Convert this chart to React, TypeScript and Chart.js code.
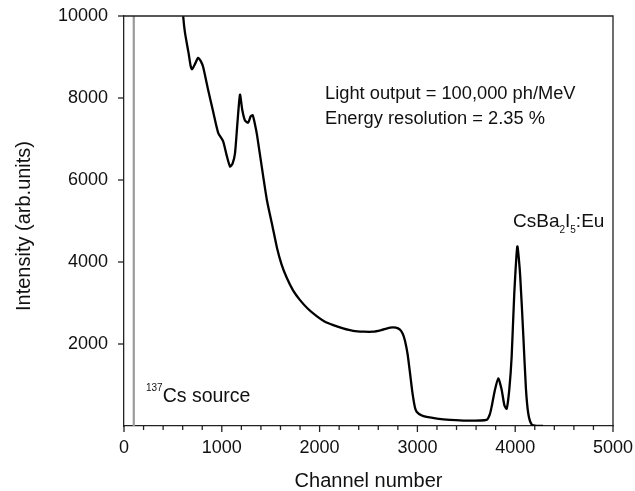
import React, { useEffect, useRef } from "react";
import { Chart, registerables } from "chart.js";

Chart.register(...registerables);

const channels = [590, 605, 623, 660, 680, 695, 730, 757, 785, 810, 860, 913, 963, 1013, 1050, 1084, 1110, 1135, 1160, 1186, 1210, 1237, 1270, 1295, 1316, 1340, 1360, 1410, 1462, 1520, 1564, 1610, 1663, 1730, 1800, 1880, 1970, 2050, 2140, 2240, 2343, 2450, 2547, 2630, 2720, 2780, 2822, 2850, 2873, 2900, 2924, 2950, 2975, 2992, 3040, 3094, 3200, 3333, 3500, 3708, 3740, 3759, 3790, 3827, 3860, 3890, 3913, 3940, 3964, 3990, 4022, 4050, 4083, 4110, 4134, 4168, 4220, 4285];
const intensity = [10600, 10000, 9600, 9100, 8800, 8700, 8850, 8980, 8900, 8750, 8200, 7650, 7150, 6950, 6600, 6330, 6400, 6650, 7400, 8080, 7700, 7450, 7400, 7550, 7580, 7350, 7100, 6300, 5500, 4850, 4350, 3950, 3620, 3300, 3070, 2860, 2680, 2550, 2460, 2380, 2320, 2300, 2300, 2340, 2400, 2400, 2350, 2250, 2080, 1750, 1300, 800, 450, 350, 260, 220, 180, 150, 130, 150, 280, 470, 850, 1160, 900, 500, 420, 900, 1700, 3200, 4380, 3700, 2200, 900, 300, 40, 5, 0];

const sourceLineX = [100, 100];
const sourceLineY = [0, 10000];

const xTicks = [0, 1000, 2000, 3000, 4000, 5000];
const yTicks = [2000, 4000, 6000, 8000, 10000];

const FONT = "'Liberation Sans', Arial, Helvetica, sans-serif";

const overlayPlugin = {
  id: "overlay",
  afterDraw(chart: any) {
    const ctx = chart.ctx;
    const { left, right, top, bottom } = chart.chartArea;
    const xs = chart.scales.x;
    const ys = chart.scales.y;
    ctx.save();
    ctx.strokeStyle = "#222";
    ctx.lineWidth = 1.3;
    ctx.beginPath();
    ctx.moveTo(left, top);
    ctx.lineTo(right, top);
    ctx.lineTo(right, bottom);
    ctx.stroke();
    for (let v = 0; v <= 5000; v += 200) {
      const px = xs.getPixelForValue(v);
      const len = v % 1000 === 0 ? 6 : 4;
      ctx.beginPath();
      ctx.moveTo(px, bottom);
      ctx.lineTo(px, bottom + len);
      ctx.stroke();
    }
    for (const v of yTicks) {
      const py = ys.getPixelForValue(v);
      ctx.beginPath();
      ctx.moveTo(left, py);
      ctx.lineTo(left - 6, py);
      ctx.stroke();
    }
    ctx.fillStyle = "#111";
    ctx.textBaseline = "alphabetic";
    ctx.textAlign = "left";
    ctx.font = `18.3px ${FONT}`;
    ctx.fillText("Light output = 100,000 ph/MeV", 325, 99);
    ctx.fillText("Energy resolution = 2.35 %", 325, 124);

    let x = 513;
    const by = 227;
    const parts: [string, boolean][] = [["CsBa", false], ["2", true], ["I", false], ["5", true], [":Eu", false]];
    for (const [t, sub] of parts) {
      if (sub) {
        ctx.font = `10px ${FONT}`;
        ctx.fillText(t, x, by + 6);
      } else {
        ctx.font = `19px ${FONT}`;
        ctx.fillText(t, x, by);
      }
      x += ctx.measureText(t).width;
    }
    ctx.font = `10px ${FONT}`;
    ctx.fillText("137", 146, 391);
    const w = ctx.measureText("137").width;
    ctx.font = `19.5px ${FONT}`;
    ctx.fillText("Cs source", 146 + w, 402);

    ctx.font = `20px ${FONT}`;
    ctx.textAlign = "center";
    ctx.fillText("Channel number", (left + right) / 2, 487);
    ctx.save();
    ctx.translate(30, 226);
    ctx.rotate(-Math.PI / 2);
    ctx.fillText("Intensity (arb.units)", 0, 0);
    ctx.restore();
    ctx.restore();
  },
};

export default function App() {
  const ref = useRef<HTMLCanvasElement | null>(null);
  useEffect(() => {
    if (!ref.current) return;
    const spectrum = channels.map((c, i) => ({ x: c, y: intensity[i] }));
    const source = sourceLineX.map((c, i) => ({ x: c, y: sourceLineY[i] }));
    const chart = new Chart(ref.current, {
      type: "scatter",
      data: {
        datasets: [
          {
            data: source,
            showLine: true,
            borderColor: "#9a9a9a",
            borderWidth: 2.2,
            pointRadius: 0,
          },
          {
            data: spectrum,
            showLine: true,
            borderColor: "#000",
            borderWidth: 2.3,
            pointRadius: 0,
            tension: 0.2,
          },
        ],
      },
      options: {
        animation: false,
        responsive: false,
        maintainAspectRatio: false,
        layout: { padding: { left: 0, top: 16, right: 22, bottom: 0 } },
        plugins: { legend: { display: false }, tooltip: { enabled: false } },
        scales: {
          x: {
            type: "linear",
            min: 0,
            max: 5000,
            afterBuildTicks: (s: any) => {
              s.ticks = xTicks.map((v) => ({ value: v }));
            },
            ticks: {
              font: { size: 18, family: FONT },
              color: "#111",
              padding: 11,
              maxRotation: 0,
              callback: (v: any) => String(v),
            },
            grid: { display: false, drawTicks: false },
            border: { display: true, color: "#222", width: 1.3 },
            afterFit: (s: any) => {
              s.height = 65;
              s.paddingLeft = 0;
              s.paddingRight = 0;
            },
          },
          y: {
            type: "linear",
            min: 0,
            max: 10000,
            afterBuildTicks: (s: any) => {
              s.ticks = yTicks.map((v) => ({ value: v }));
            },
            ticks: {
              font: { size: 18, family: FONT },
              color: "#111",
              padding: 16,
              callback: (v: any) => String(v),
            },
            grid: { display: false, drawTicks: false },
            border: { display: true, color: "#222", width: 1.3 },
            afterFit: (s: any) => {
              s.width = 124;
              s.paddingTop = 0;
              s.paddingBottom = 0;
            },
          },
        },
      },
      plugins: [overlayPlugin],
    });
    return () => chart.destroy();
  }, []);
  return (
    <div style={{ position: "absolute", left: 0, top: 0, width: 635, height: 491, background: "#fff" }}>
      <canvas ref={ref} width={635} height={491} />
    </div>
  );
}
